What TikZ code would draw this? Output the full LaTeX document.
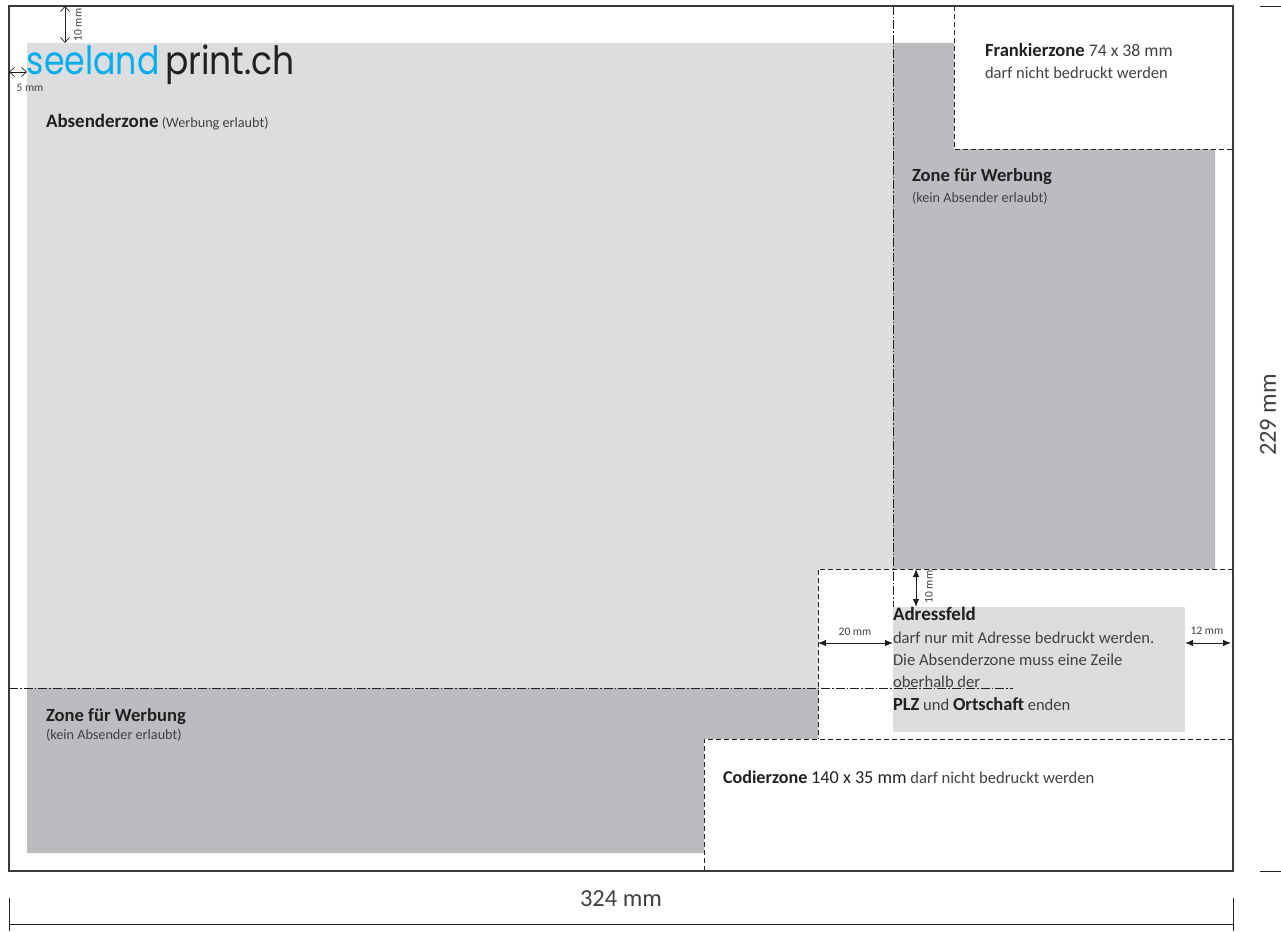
\documentclass[tikz,border=0pt]{standalone}
\usepackage{fontspec}
\setmainfont{Carlito}
\newfontfamily\logofont{Poppins}
\usetikzlibrary{arrows.meta}
\definecolor{lightzone}{HTML}{DCDDDF}
\definecolor{darkzone}{HTML}{BBBCC0}
\definecolor{inktext}{HTML}{231F20}
\definecolor{softtext}{HTML}{414042}
\definecolor{logoblue}{HTML}{00AEEF}
\definecolor{framegrey}{HTML}{3A3A3C}
\tikzset{
  lbl/.style={anchor=base west,inner sep=0pt,outer sep=0pt,text=softtext,font=\fontsize{#1}{#1}\selectfont},
  lbl/.default=16,
  dimlbl/.style={inner sep=0pt,outer sep=0pt,text=softtext,font=\fontsize{#1}{#1}\selectfont},
  logotext/.style={anchor=base west,inner sep=0pt,outer sep=0pt,font=\fontsize{39}{39}\logofont},
  frameline/.style={draw=framegrey,line width=1.1pt},
  zonedash/.style={draw=inktext,line width=0.8pt,dash pattern=on 5pt off 3pt},
  foldline/.style={draw=inktext,line width=0.7pt,dash pattern=on 9pt off 2pt on 1.5pt off 2pt},
  openarrow/.style={draw=inktext,line width=0.7pt,{Straight Barb[length=5pt,width=9pt]}-{Straight Barb[length=5pt,width=9pt]}},
  fillarrow/.style={draw=inktext,line width=0.9pt,{Latex[length=8pt,width=6.5pt]}-{Latex[length=8pt,width=6.5pt]}},
  dimline/.style={draw=inktext,line width=0.9pt}
}
\newcommand{\bt}[2][18.6]{{\fontsize{#1}{#1}\selectfont\textbf{\textcolor{inktext}{#2}}}}
\begin{document}
\begin{tikzpicture}[x=1pt,y=-1pt]
\useasboundingbox (0,0) rectangle (1281,931);
% zones
\fill[lightzone] (27,43) -- (893,43) -- (893,569) -- (818,569) -- (818,688) -- (27,688) -- cycle;
\fill[darkzone] (893,43) -- (954,43) -- (954,149) -- (1215,149) -- (1215,569) -- (893,569) -- cycle;
\fill[darkzone] (27,688) -- (818,688) -- (818,739) -- (704,739) -- (704,853) -- (27,853) -- cycle;
\fill[lightzone] (893,607) rectangle (1185,732);
% frame
\draw[frameline] (9,6) rectangle (1233,871);
% dashed zone borders
\draw[zonedash] (954,6) -- (954,149) -- (1233,149);
\draw[zonedash] (1233,569) -- (818,569) -- (818,739);
\draw[zonedash] (1233,739) -- (704,739) -- (704,871);
% fold lines
\draw[foldline] (893,6) -- (893,607);
\draw[foldline] (9,688) -- (1013,688);
% dimension anchors
\coordinate (t1) at (65,6); \coordinate (t2) at (65,43);
\coordinate (l1) at (9,72); \coordinate (l2) at (27,72);
\coordinate (a1) at (916,569); \coordinate (a2) at (916,607);
\coordinate (b1) at (818,643); \coordinate (b2) at (893,643);
\coordinate (c1) at (1185,643); \coordinate (c2) at (1231,643);
\draw[openarrow] (t1) -- (t2);
\draw[openarrow] (l1) -- (l2);
\draw[fillarrow] (a1) -- (a2);
\draw[fillarrow] (b1) -- (b2);
\draw[fillarrow] (c1) -- (c2);
\node[dimlbl=11.5,rotate=90] (ltop) at (78,25) {10 mm};
\node[dimlbl=11.5] (lleft) at (30,88) {5 mm};
\node[dimlbl=11.5,rotate=90] (laddr) at (929,587) {10 mm};
\node[dimlbl=11.5] (l20) at (855,632) {20 mm};
\node[dimlbl=11.5] (l12) at (1207,631) {12 mm};
% logo
\node[logotext,xscale=.85,text=logoblue] (logo1) at (27,75) {seeland};
\node[logotext,xscale=.885,text=inktext] (logo2) at (165,75) {print.ch};
% labels
\node[lbl=14.2] (abs) at (46,128) {\bt[19]{Absenderzone} (Werbung erlaubt)};
\node[lbl=17.7] (fr1) at (985,57) {\bt{Frankierzone} 74 x 38 mm};
\node[lbl=16.5] (fr2) at (985,79) {darf nicht bedruckt werden};
\node[lbl=18.6] (zw1) at (912,181) {\bt{Zone für Werbung}};
\node[lbl=14.2] (zw2) at (912,202) {(kein Absender erlaubt)};
\node[lbl=19] (ad1) at (893,620) {\bt[19]{Adressfeld}};
\node[lbl=16.6] (ad2) at (893,643) {darf nur mit Adresse bedruckt werden.};
\node[lbl=16.6] (ad3) at (893,665) {Die Absenderzone muss eine Zeile};
\node[lbl=16.6] (ad4) at (893,687) {oberhalb der};
\node[lbl=16.6] (ad5) at (893,710) {\bt[18.4]{PLZ} und \bt[18.4]{Ortschaft} enden};
\node[lbl=18.6] (zb1) at (46,721) {\bt{Zone für Werbung}};
\node[lbl=14.2] (zb2) at (46,739) {(kein Absender erlaubt)};
\node[lbl=16.6] (cod) at (723,783) {\bt[18.1]{Codierzone} {\fontsize{18.2}{18.2}\selectfont\textcolor{inktext}{140 x 35 mm}} darf nicht bedruckt werden};
% outer dimensions
\draw[dimline] (1260,6) -- (1281,6);
\draw[dimline] (1260,871) -- (1281,871);
\draw[dimline] (9,898) -- (9,931);
\draw[dimline] (1233,898) -- (1233,931);
\draw[dimline] (9,924) -- (1233,924);
\node[dimlbl=24.5] (w) at (621,899) {324 mm};
\node[dimlbl=24.5,rotate=90] (h) at (1268,415) {229 mm};
\end{tikzpicture}
\end{document}
